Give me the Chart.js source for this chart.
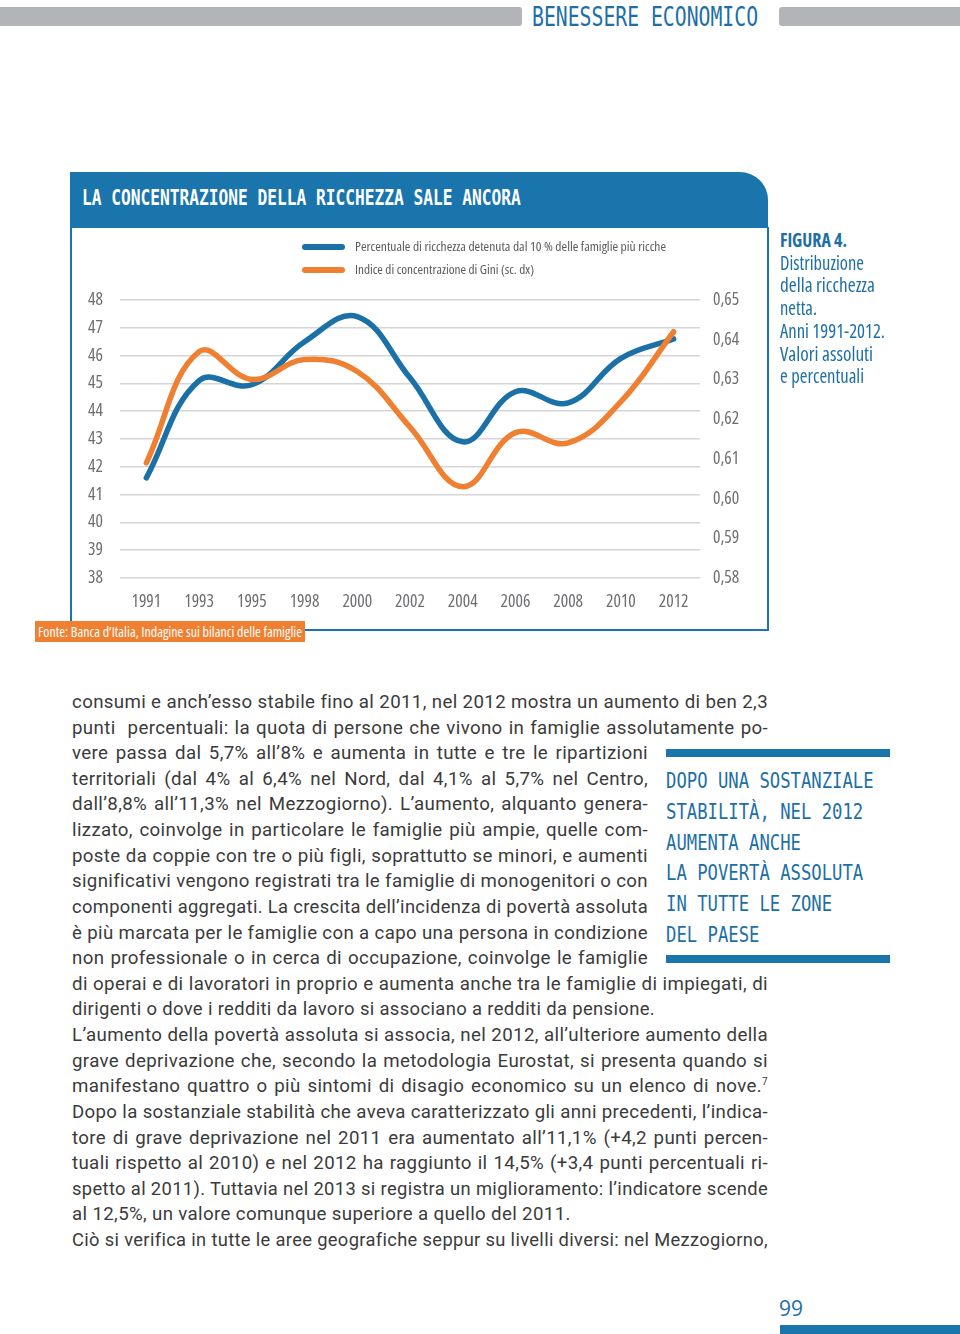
<!DOCTYPE html>
<html>
<head>
<meta charset="utf-8">
<script src="https://cdn.jsdelivr.net/npm/chart.js@4.4.0/dist/chart.umd.min.js"></script>
<style>
  html, body { margin: 0; padding: 0; background: #fff; }
  body { width: 960px; height: 1334px; position: relative; overflow: hidden; }
  .abs { position: absolute; }
  .narrow { font-family: "Open Sans", "Roboto Condensed", sans-serif; font-stretch: 75%; }
  .din { font-family: "Roboto", "Open Sans", sans-serif; letter-spacing: 0.35px; }
  .mono { font-family: "DejaVu Sans Mono", "Liberation Mono", monospace; white-space: pre; transform-origin: left center; display: inline-block; }
  .fit { white-space: pre; }
  .fit > span { display: inline-block; transform-origin: left center; white-space: pre; }
  .graybar { background: #b2b4b7; height: 19px; top: 7px; }
  .blue { color: #1d6fa5; }
  .sup { position: relative; top: -7px; font-size: 10px; line-height: 0; }
</style>
</head>
<body>

<!-- testata pagina -->
<div class="abs graybar" style="left:0;width:522px;border-radius:0 3px 3px 0"></div>
<div class="abs graybar" style="left:779px;width:181px;border-radius:3px 0 0 3px"></div>
<div class="abs mono blue" style="left:532px;top:2px;font-size:26px;line-height:30px;transform:scaleX(0.76)">BENESSERE ECONOMICO</div>

<!-- riquadro grafico -->
<div class="abs" style="left:70px;top:172px;width:698px;height:56px;background:#1a75ad;border-top-right-radius:28px"></div>
<div class="abs mono" style="left:82px;top:185px;font-size:20.5px;line-height:26px;font-weight:bold;color:#fff;transform:scaleX(0.79)">LA CONCENTRAZIONE DELLA RICCHEZZA SALE ANCORA</div>
<div class="abs" style="left:70px;top:227px;width:695px;height:402px;border:2px solid #1a75ad;border-top:none"></div>

<div class="abs" style="left:70px;top:227px;width:697px;height:403px">
  <canvas id="chart" width="697" height="403"></canvas>
</div>

<!-- legenda -->
<div class="abs" style="left:302px;top:244px;width:43px;height:6px;border-radius:3px;background:#1b70a6"></div>
<div class="abs narrow fit" data-w="311" data-exact="1" style="left:355px;top:237px;font-size:13px;line-height:18px;color:#5a5a5a"><span>Percentuale di ricchezza detenuta dal 10 % delle famiglie più ricche</span></div>
<div class="abs" style="left:302px;top:267px;width:43px;height:6px;border-radius:3px;background:#ef7f31"></div>
<div class="abs narrow fit" data-w="179" data-exact="1" style="left:355px;top:260px;font-size:13px;line-height:18px;color:#5a5a5a"><span>Indice di concentrazione di Gini (sc. dx)</span></div>

<!-- fonte -->
<div class="abs narrow fit" data-w="264" data-exact="1" style="left:35px;top:621px;width:270px;height:21px;background:#ef7f31;color:#fff;font-size:14px;line-height:21px;padding-left:3px;box-sizing:border-box"><span>Fonte: Banca d’Italia, Indagine sui bilanci delle famiglie</span></div>

<!-- didascalia -->
<div id="caption"></div>

<!-- box laterale -->
<div class="abs" style="left:666px;top:749px;width:224px;height:8px;background:#1a75ad"></div>
<div class="abs" style="left:666px;top:955px;width:224px;height:8px;background:#1a75ad"></div>
<div id="side"></div>

<!-- testo -->
<div id="body"></div>

<!-- numero pagina -->
<div class="abs blue" style="left:779px;top:1294px;font-family:'Open Sans',sans-serif;font-size:21px;line-height:28px">99</div>
<div class="abs" style="left:780px;top:1325px;width:180px;height:9px;background:#1a75ad"></div>

<script>
// dati del grafico
const years = ['1991', '1993', '1995', '1998', '2000', '2002', '2004', '2006', '2008', '2010', '2012'];
const top10Share = [41.6, 45.1, 44.95, 46.5, 47.4, 45.2, 42.9, 44.7, 44.3, 45.9, 46.6];
const giniIndex = [0.609, 0.637, 0.630, 0.635, 0.632, 0.618, 0.603, 0.6166, 0.614, 0.6244, 0.642];
const leftRange = [38, 48];
const rightRange = [0.58, 0.65];

// "condensed" finisce nella stringa font del canvas (font-stretch)
const tickFont = { family: '"Open Sans", "Roboto Condensed", sans-serif', size: 17.5, weight: 'condensed' };
const tickColor = '#6d6e71';

var ctx = document.getElementById('chart').getContext('2d');
var chart = new Chart(ctx, {
    type: 'line',
    data: {
        labels: years,
        datasets: [{
            label: 'Percentuale di ricchezza detenuta dal 10 % delle famiglie più ricche',
            data: top10Share,
            yAxisID: 'y',
            borderColor: '#1b70a6',
            borderWidth: 5.5,
            tension: 0.4,
            pointRadius: 0,
            borderCapStyle: 'round',
            fill: false,
            order: 1
        }, {
            label: 'Indice di concentrazione di Gini (sc. dx)',
            data: giniIndex,
            yAxisID: 'y1',
            borderColor: '#ef7f31',
            borderWidth: 5.5,
            tension: 0.4,
            pointRadius: 0,
            borderCapStyle: 'round',
            fill: false,
            order: 0
        }]
    },
    options: {
        responsive: false,
        animation: false,
        layout: { padding: { top: 73, bottom: 12, left: 0, right: 0 } },
        plugins: { legend: { display: false }, tooltip: { enabled: false } },
        scales: {
            x: {
                offset: true,
                grid: { display: false, drawTicks: false },
                border: { display: false },
                ticks: { color: tickColor, font: tickFont, padding: 14, maxRotation: 0 },
                afterFit: function (s) { s.height = 40; }
            },
            y: {
                position: 'left',
                min: leftRange[0],
                max: leftRange[1],
                ticks: { stepSize: 1, padding: 17, color: tickColor, font: tickFont },
                grid: { color: '#d4d5d7', lineWidth: 1.5, drawTicks: false },
                border: { display: false },
                afterFit: function (s) { s.width = 50; }
            },
            y1: {
                position: 'right',
                min: rightRange[0],
                max: rightRange[1],
                ticks: {
                    stepSize: 0.01, padding: 13, color: tickColor, font: tickFont,
                    callback: function (v) { return v.toFixed(2).replace('.', ','); }
                },
                grid: { display: false, drawTicks: false },
                border: { display: false },
                afterFit: function (s) { s.width = 67; }
            }
        }
    }
});

// didascalia a destra
const captionLines = [
    ['FIGURA 4.', 67, true], ['Distribuzione', 84], ['della ricchezza', 95], ['netta.', 37],
    ['Anni 1991-2012.', 105], ['Valori assoluti', 93], ['e percentuali', 84]
];
var cap = document.getElementById('caption');
captionLines.forEach(function (l, i) {
    var d = document.createElement('div');
    d.className = 'abs narrow fit blue';
    d.dataset.w = l[1];
    d.dataset.exact = '1';
    d.style.cssText = 'left:780px;top:' + (228 + i * 22.7) + 'px;font-size:19px;line-height:24px;' + (l[2] ? 'font-weight:bold;' : '');
    d.innerHTML = '<span>' + l[0] + '</span>';
    cap.appendChild(d);
});

// box laterale
const sideLines = ['DOPO UNA SOSTANZIALE', 'STABILITÀ, NEL 2012', 'AUMENTA ANCHE', 'LA POVERTÀ ASSOLUTA', 'IN TUTTE LE ZONE', 'DEL PAESE'];
var side = document.getElementById('side');
sideLines.forEach(function (t, i) {
    var d = document.createElement('div');
    d.className = 'abs mono blue';
    d.style.cssText = 'left:666px;top:' + (781 + i * 30.8 - 14) + 'px;font-size:20.6px;line-height:28px;transform:scaleX(0.837)';
    d.textContent = t;
    side.appendChild(d);
});

// testo corrente: [testo, larghezza, giustificato]
const bodyLines = [
    ['consumi e anch’esso stabile fino al 2011, nel 2012 mostra un aumento di ben 2,3', 696, 1],
    ['punti  percentuali: la quota di persone che vivono in famiglie assolutamente po-', 696, 1],
    ['vere passa dal 5,7% all’8% e aumenta in tutte e tre le ripartizioni', 576, 1],
    ['territoriali (dal 4% al 6,4% nel Nord, dal 4,1% al 5,7% nel Centro,', 576, 1],
    ['dall’8,8% all’11,3% nel Mezzogiorno). L’aumento, alquanto genera-', 576, 1],
    ['lizzato, coinvolge in particolare le famiglie più ampie, quelle com-', 576, 1],
    ['poste da coppie con tre o più figli, soprattutto se minori, e aumenti', 576, 1],
    ['significativi vengono registrati tra le famiglie di monogenitori o con', 576, 1],
    ['componenti aggregati. La crescita dell’incidenza di povertà assoluta', 576, 1],
    ['è più marcata per le famiglie con a capo una persona in condizione', 576, 1],
    ['non professionale o in cerca di occupazione, coinvolge le famiglie', 576, 1],
    ['di operai e di lavoratori in proprio e aumenta anche tra le famiglie di impiegati, di', 696, 1],
    ['dirigenti o dove i redditi da lavoro si associano a redditi da pensione.', 583, 0],
    ['L’aumento della povertà assoluta si associa, nel 2012, all’ulteriore aumento della', 696, 1],
    ['grave deprivazione che, secondo la metodologia Eurostat, si presenta quando si', 696, 1],
    ['manifestano quattro o più sintomi di disagio economico su un elenco di nove.<span class="sup">7</span>', 696, 1],
    ['Dopo la sostanziale stabilità che aveva caratterizzato gli anni precedenti, l’indica-', 696, 1],
    ['tore di grave deprivazione nel 2011 era aumentato all’11,1% (+4,2 punti percen-', 696, 1],
    ['tuali rispetto al 2010) e nel 2012 ha raggiunto il 14,5% (+3,4 punti percentuali ri-', 696, 1],
    ['spetto al 2011). Tuttavia nel 2013 si registra un miglioramento: l’indicatore scende', 696, 1],
    ['al 12,5%, un valore comunque superiore a quello del 2011.', 499, 0],
    ['Ciò si verifica in tutte le aree geografiche seppur su livelli diversi: nel Mezzogiorno,', 696, 1]
];
var body = document.getElementById('body');
bodyLines.forEach(function (l, i) {
    var d = document.createElement('div');
    d.className = 'abs din fit';
    d.dataset.w = l[1];
    if (l[2]) d.dataset.justify = '1';
    d.style.cssText = 'left:72px;top:' + (702 + i * 25.62 - 13) + 'px;font-size:18.7px;line-height:26px;color:#3b3b3b';
    d.innerHTML = '<span>' + l[0] + '</span>';
    body.appendChild(d);
});

// adatta le righe di testo alla larghezza misurata
document.querySelectorAll('.fit').forEach(function (el) {
    var span = el.firstElementChild;
    var w = parseFloat(el.dataset.w);
    var n = span.getBoundingClientRect().width;
    if (!n) return;
    if (n > w || el.dataset.exact) {
        span.style.transform = 'scaleX(' + (w / n) + ')';
    } else if (el.dataset.justify) {
        var spaces = (span.textContent.match(/ /g) || []).length;
        if (spaces) span.style.wordSpacing = ((w - n) / spaces) + 'px';
    }
});
</script>
</body>
</html>
